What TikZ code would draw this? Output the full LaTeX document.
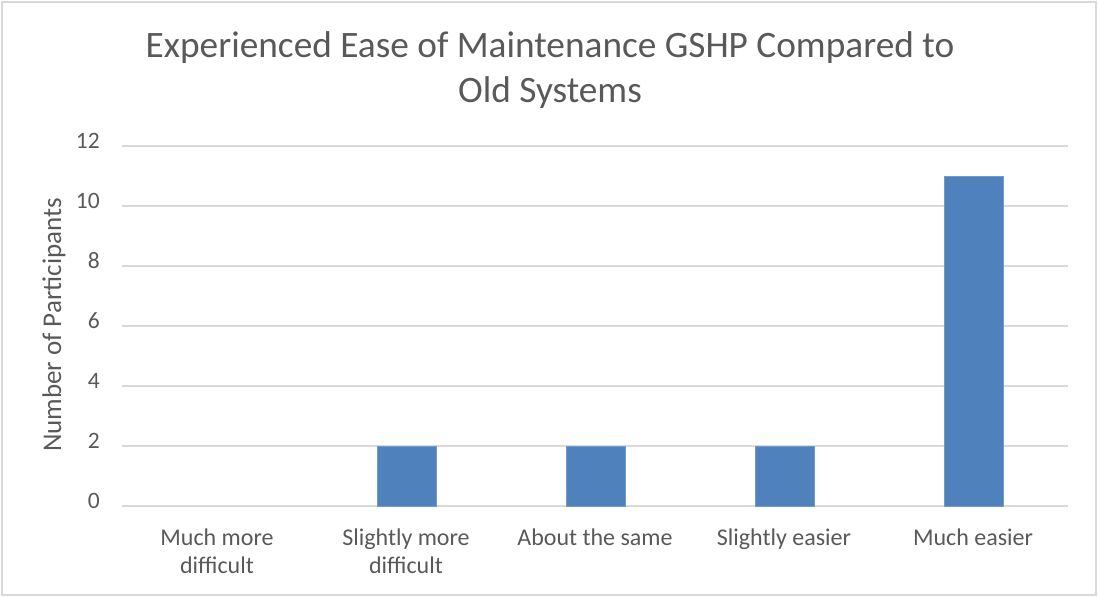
\documentclass[tikz,border=0pt]{standalone}
\usepackage{fontspec}
\setmainfont{Carlito}
\definecolor{txt}{HTML}{595959}
\definecolor{grid}{HTML}{D9D9D9}
\definecolor{bar}{HTML}{4F81BD}
\begin{document}
\begin{tikzpicture}[x=1pt,y=-1pt,
  titletxt/.style={text=txt,font=\fontsize{37.3}{44}\selectfont,anchor=base,inner sep=0},
  ticklbl/.style={text=txt,font=\fontsize{23.5}{25}\selectfont,anchor=mid east,inner sep=0},
  catlbl/.style={text=txt,font=\fontsize{24}{28}\selectfont,anchor=base,inner sep=0,align=center},
  gridline/.style={draw=grid,line width=1.3pt},
  barfill/.style={fill=bar,draw=bar!80!white,line width=0.6pt}]
\useasboundingbox (0,0) rectangle (1098,597);
\draw[grid,line width=1.3pt] (2,2) rectangle (1096,595);
% title
\node[titletxt] (t1) at (550,57) {Experienced Ease of Maintenance GSHP Compared to};
\node[titletxt] (t2) at (550,102) {Old Systems};
% grid and ticks
\foreach \v/\yy in {0/506,2/446,4/386,6/326,8/266,10/206,12/146}{
  \draw[gridline] (122,\yy) -- (1068,\yy);
  \node[ticklbl] (tick\v) at (100,\yy) {\v};
}
% axis title
\node[text=txt,font=\fontsize{27}{30}\selectfont,rotate=90,inner sep=0] (ytitle) at (54,325) {Number of Participants};
% bars
\fill[barfill] (377,506) rectangle (436,446);
\fill[barfill] (566,506) rectangle (625,446);
\fill[barfill] (755,506) rectangle (814,446);
\fill[barfill] (944,506) rectangle (1003,176);
% categories
\node[catlbl] (c1a) at (217,545) {Much more};
\node[catlbl] (c1b) at (217,573) {difficult};
\node[catlbl] (c2a) at (406,545) {Slightly more};
\node[catlbl] (c2b) at (406,573) {difficult};
\node[catlbl] (c3) at (595,545) {About the same};
\node[catlbl] (c4) at (784,545) {Slightly easier};
\node[catlbl] (c5) at (973,545) {Much easier};
\end{tikzpicture}
\end{document}
